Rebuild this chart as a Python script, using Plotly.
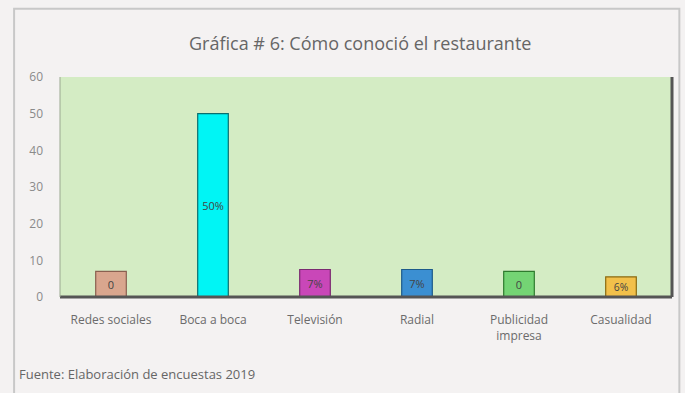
import plotly.graph_objects as go

categories = ["Redes sociales", "Boca a boca", "Televisión", "Radial", "Publicidad<br>impresa", "Casualidad"]
values = [7, 50, 7.5, 7.5, 7, 5.5]
labels = ["0", "50%", "7%", "7%", "0", "6%"]
colors = ["#d9a68e", "#00f5f5", "#c947b8", "#3b8fd2", "#74d474", "#f2c04a"]
edge_colors = ["#8a6050", "#0a6e6e", "#7a2a70", "#1d5a8a", "#2e7a2e", "#8a6a10"]
y_ticks = [0, 10, 20, 30, 40, 50, 60]

fig = go.Figure()
fig.add_trace(go.Bar(
    x=categories, y=values,
    marker=dict(color=colors, line=dict(color=edge_colors, width=1.2)),
    text=labels, textposition="inside", insidetextanchor="middle",
    textfont=dict(family="Open Sans", size=11, color="#444"),
    width=0.3, hoverinfo="skip"
))

fig.update_layout(
    width=685, height=393,
    margin=dict(l=60, r=13, t=77, b=96),
    paper_bgcolor="#f4f2f2",
    plot_bgcolor="#d4ecc4",
    showlegend=False,
    font=dict(family="Open Sans", color="#6b6b6b"),
    xaxis=dict(showgrid=False, showline=False, ticks="", tickfont=dict(size=12, color="#6b6b6b"),
               ticklabelstandoff=14, fixedrange=True),
    yaxis=dict(range=[0, 60], tickvals=y_ticks, showgrid=False, zeroline=False, showline=False,
               tickfont=dict(size=12, color="#8a8a8a"), ticklabelstandoff=16),
    annotations=[
        dict(text="Gráfica # 6: Cómo conoció el restaurante", xref="paper", yref="paper",
             x=0.49, y=1.0, yshift=20, yanchor="bottom", xanchor="center", showarrow=False,
             font=dict(size=18, color="#666", family="Open Sans")),
        dict(text="Fuente: Elaboración de encuestas 2019", xref="paper", yref="paper",
             x=0, xshift=-43, y=0, yshift=-88, xanchor="left", yanchor="bottom", showarrow=False,
             font=dict(size=13, color="#666", family="Open Sans")),
    ],
    shapes=[
        # outer frame
        dict(type="rect", xref="paper", yref="paper", x0=-0.075, x1=1.012, y0=-0.46, y1=1.31,
             line=dict(color="#c8c8c8", width=2), layer="below"),
        # 3D effect borders of plot area
        dict(type="line", xref="paper", yref="paper", x0=1, x1=1, y0=0, y1=1,
             line=dict(color="#555", width=3)),
        dict(type="line", xref="paper", yref="paper", x0=0, x1=1, y0=0, y1=0,
             line=dict(color="#555", width=3)),
        dict(type="line", xref="paper", yref="paper", x0=0, x1=0, y0=0, y1=1,
             line=dict(color="#9aa890", width=1)),
    ],
)

fig.write_html("out.html")
